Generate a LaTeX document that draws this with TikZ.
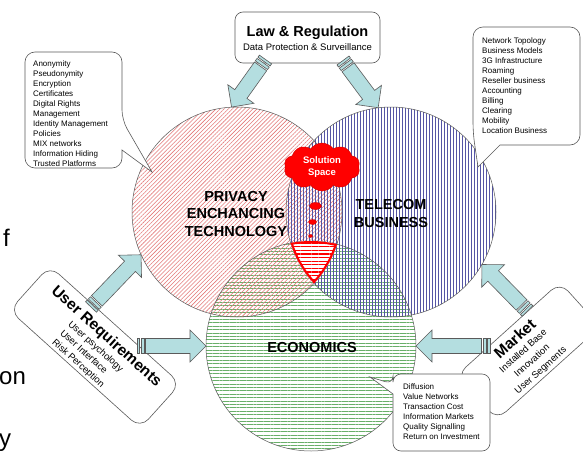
\documentclass[tikz,border=0pt]{standalone}
\usepackage{fontspec}
\setmainfont{Liberation Sans}
\usetikzlibrary{calc,patterns.meta,shapes.symbols,shapes.geometric}
\definecolor{redline}{RGB}{228,120,120}
\definecolor{blueline}{RGB}{85,85,165}
\definecolor{greenline}{RGB}{105,175,105}
\definecolor{arrowfill}{RGB}{180,222,224}
\definecolor{edgegray}{RGB}{90,90,90}

\newcommand{\striparrow}[2]{%
  \path let \p1=($(#2)-(#1)$) in \pgfextra{%
    \pgfmathsetmacro{\arrowang}{atan2(\y1,\x1)}%
    \pgfmathsetmacro{\arrowlen}{veclen(\x1,\y1)}%
    \xdef\arrowang{\arrowang}\xdef\arrowlen{\arrowlen}};
  \begin{scope}[shift={(#1)},rotate=\arrowang]
    \draw[blockarrow] (0,-7.5) rectangle (2.5,7.5);
    \draw[blockarrow] (4,-7.5) rectangle (7,7.5);
    \draw[blockarrow] (8.5,-7.5) -- ({\arrowlen-16},-7.5) -- ({\arrowlen-16},-16) -- (\arrowlen,0)
      -- ({\arrowlen-16},16) -- ({\arrowlen-16},7.5) -- (8.5,7.5) -- cycle;
  \end{scope}}

\begin{document}
\begin{tikzpicture}[x=1pt,y=-1pt,
    zone/.style={circle,minimum size=210pt,inner sep=0pt,outer sep=0pt},
    textbox/.style={draw=edgegray,fill=white,line width=0.6pt,rounded corners=8pt},
    callout/.style={draw=edgegray,fill=white,line width=0.6pt},
    blockarrow/.style={draw=edgegray,fill=arrowfill,line width=0.6pt,line join=miter},
    listtext/.style={font=\fontsize{8}{10}\selectfont,align=left,inner sep=0pt,anchor=north west},
    biglabel/.style={font=\bfseries\fontsize{14.5}{17.5}\selectfont,align=center,inner sep=0pt},
    titlefont/.style={font=\bfseries\fontsize{15.5}{18}\selectfont,inner sep=0pt},
    bubble/.style={ellipse,fill=red,draw=red!80!black,line width=0.4pt,inner sep=0pt},
    bgtext/.style={font=\fontsize{24}{28}\selectfont,inner sep=0pt,anchor=base west}]
  \useasboundingbox (0,0) rectangle (583,452);
  \fill[white] (0,0) rectangle (583,452);

  \node[bgtext] (bgf) at (3,246) {f};
  \node[bgtext] (bgon) at (-1,384) {on};
  \node[bgtext] (bgy) at (-1,446) {y};

  \node[zone,pattern={Lines[angle=0,distance=3.4pt,line width=0.6pt]},pattern color=greenline] (econ) at (311,346) {};
  \node[zone,pattern={Lines[angle=45,distance=2.9pt,line width=0.55pt]},pattern color=redline] (priv) at (237,212) {};
  \node[zone,pattern={Lines[angle=90,distance=3pt,line width=0.5pt]},pattern color=blueline] (tele) at (391,212) {};
  \foreach \z in {priv,tele,econ}
    \draw[edgegray,line width=0.5pt] (\z.center) circle[radius=105pt];

  \begin{scope}
    \clip (priv.center) circle[radius=105pt];
    \clip (tele.center) circle[radius=105pt];
    \clip (econ.center) circle[radius=105pt];
    \fill[white] (econ.center) circle[radius=105pt];
    \fill[pattern={Lines[angle=0,distance=3.6pt,line width=1.2pt]},pattern color=red] (econ.center) circle[radius=105pt];
    \foreach \z in {priv,tele,econ}
      \draw[red,line width=4pt] (\z.center) circle[radius=105pt];
  \end{scope}

  \node[cloud,cloud puffs=10,cloud puff arc=110,aspect=1.6,fill=red,draw=red!80!black,minimum width=76pt,minimum height=48pt,
    inner sep=0pt,text=white,font=\bfseries\fontsize{9.5}{12}\selectfont,align=center] (solution) at (322,167) {Solution\\Space};
  \node[bubble,minimum width=12pt,minimum height=7pt] (bub1) at (315.5,206) {};
  \node[bubble,minimum width=8pt,minimum height=5pt] (bub2) at (312.5,222) {};
  \node[bubble,minimum width=4pt,minimum height=3pt] (bub3) at (310.5,236) {};

  \node[biglabel] (privlabel) at (236,214) {PRIVACY\\ENCHANCING\\TECHNOLOGY};
  \node[biglabel,font=\bfseries\fontsize{14.5}{18}\selectfont] (telelabel) at (391,214) {TELECOM\\BUSINESS};
  \node[biglabel] (econlabel) at (312,348) {ECONOMICS};

  \draw[callout] (122,150) [rounded corners=10pt] -- (122,168) -- (25,168) -- (25,52) -- (122,52) -- (122,120)
    [sharp corners] -- (152,172) -- cycle;
  \node[listtext] (petlist) at (33,60.4) {Anonymity\\Pseudonymity\\Encryption\\Certificates\\Digital Rights\\Management\\Identity Management\\Policies\\MIX networks\\Information Hiding\\Trusted Platforms};

  \draw[callout] (500,145) [rounded corners=10pt] -- (580,145) -- (580,27) -- (473,27) -- (473,133)
    [sharp corners] -- (478,167) -- cycle;
  \node[listtext] (telelist) at (482,37.1) {Network Topology\\Business Models\\3G Infrastructure\\Roaming\\Reseller business\\Accounting\\Billing\\Clearing\\Mobility\\Location Business};

  \node[textbox,minimum width=145pt,minimum height=51pt] (law) at (307.5,37.5) {};
  \node[font=\bfseries\fontsize{14.5}{16}\selectfont,inner sep=0pt] (lawtitle) at (307.5,33) {Law \& Regulation};
  \node[font=\fontsize{9.5}{11}\selectfont,inner sep=0pt] (lawsub) at (307.5,47) {Data Protection \& Surveillance};

  \begin{scope}[shift={(95,347)},rotate=-42,transform shape]
    \node[textbox,rounded corners=12pt,minimum width=176pt,minimum height=60pt] (userbox) at (0,0) {};
    \node[titlefont] (usertitle) at (1.5,-15) {User Requirements};
    \node[listtext,font=\fontsize{9.5}{12}\selectfont] (userlist) at (-35,-5) {User psychology\\User Interface\\Risk Perception};
  \end{scope}

  \begin{scope}[shift={(528.5,351)},rotate=42,transform shape]
    \node[textbox,rounded corners=12pt,minimum width=139pt,minimum height=60pt] (marketbox) at (0,0) {};
    \node[titlefont] (markettitle) at (-2,-18.5) {Market};
    \node[font=\fontsize{9.5}{13}\selectfont,align=center,inner sep=0pt] (marketlist) at (-4,10) {Installed Base\\Innovation\\User Segments};
  \end{scope}

  \draw[callout] (393,394) [rounded corners=8pt] -- (393,451) -- (490,451) -- (490,374) -- (393,374) -- (393,384)
    [sharp corners] -- (370,377) -- cycle;
  \node[listtext] (econlist) at (403,383.1) {Diffusion\\Value Networks\\Transaction Cost\\Information Markets\\Quality Signalling\\Return on Investment};

  \coordinate (lawL) at (265.5,59.5);
  \coordinate (lawR) at (343,60.5);
  \coordinate (userU) at (91,307);
  \coordinate (userD) at (137,346);
  \coordinate (marketU) at (527.5,311);
  \coordinate (marketD) at (490,346);
  \striparrow{lawL}{priv.93}
  \striparrow{lawR}{tele.97}
  \striparrow{userU}{priv.204}
  \striparrow{userD}{econ.180}
  \striparrow{marketU}{tele.330}
  \striparrow{marketD}{econ.0}
\end{tikzpicture}
\end{document}
